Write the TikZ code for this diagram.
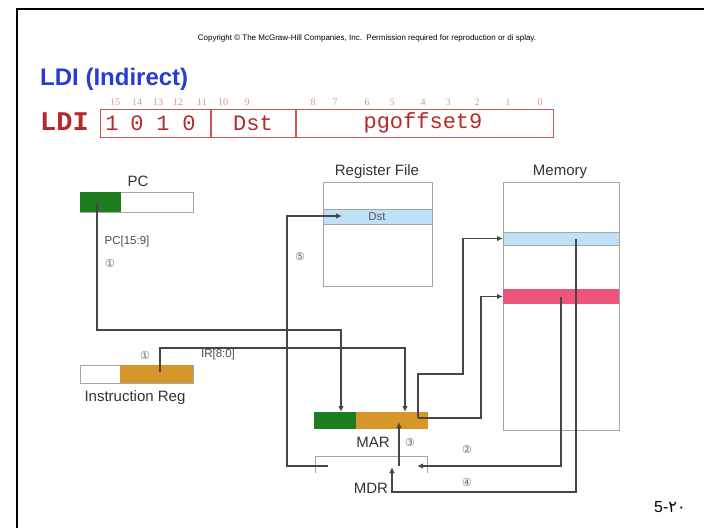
\documentclass[tikz,border=0pt]{standalone}
\usepackage{fontspec}
\setmainfont{Liberation Sans}
\newfontfamily\monofont{Liberation Mono}
\newfontfamily\bitfont{Liberation Serif}
\newfontfamily\symfont{DejaVu Sans}
\newfontfamily\arabicfont[Script=Arabic]{DejaVu Sans}
\usetikzlibrary{arrows.meta}

\definecolor{titleblue}{RGB}{40,60,210}
\definecolor{instrred}{RGB}{185,40,40}
\definecolor{boxred}{RGB}{205,85,85}
\definecolor{bitred}{RGB}{215,150,150}
\definecolor{regGreen}{RGB}{30,125,30}
\definecolor{regOrange}{RGB}{214,150,42}
\definecolor{rowBlue}{RGB}{190,225,245}
\definecolor{rowPink}{RGB}{238,85,125}
\definecolor{wireGray}{RGB}{70,70,70}
\definecolor{edgeGray}{RGB}{165,165,165}

\tikzset{
  regbox/.style={draw=edgeGray, line width=0.9pt, inner sep=0pt, outer sep=0pt, anchor=north west},
  fillbox/.style={inner sep=0pt, outer sep=0pt, anchor=north west},
  wire/.style={draw=wireGray, line width=1.4pt},
  arr/.style={wire, -{Latex[length=6pt,width=5.5pt]}},
  lbl/.style={font=\fontsize{15}{17}\selectfont, text=black!80, inner sep=0pt},
  tiny/.style={font=\fontsize{11.5}{13}\selectfont, text=black!70, inner sep=0pt},
  stepnum/.style={font=\symfont\fontsize{11}{12}\selectfont, text=black!60, inner sep=0pt},
  field/.style={font=\monofont\fontsize{22}{22}\selectfont, text=instrred, inner sep=0pt},
  bitnum/.style={font=\bitfont\fontsize{10}{10}\selectfont, text=bitred, inner sep=0pt}
}

\begin{document}
\begin{tikzpicture}[x=1pt,y=-1pt]
\useasboundingbox (0,0) rectangle (704,528);
\fill[white] (0,0) rectangle (704,528);

% slide frame
\draw[line width=2pt] (17,528) -- (17,8.5) -- (704,8.5);

\node[font=\fontsize{8}{9}\selectfont, inner sep=0pt] (copy) at (367,38)
  {Copyright © The McGraw-Hill Companies, Inc.\ \ Permission required for reproduction or di splay.};

\node[anchor=base west, inner sep=0pt, text=titleblue, font=\bfseries\fontsize{24}{27}\selectfont] (title) at (40,85) {LDI (Indirect)};

% instruction format
\node[anchor=west, inner sep=0pt, text=instrred, font=\monofont\bfseries\fontsize{27}{27}\selectfont] (opname) at (40,122) {LDI};
\node[draw=boxred, line width=1.3pt, minimum width=453pt, minimum height=28pt, anchor=north west, inner sep=0pt] (ibox) at (100,109) {};
\draw[boxred, line width=1.3pt] (211,109) -- (211,137);
\draw[boxred, line width=1.3pt] (296,109) -- (296,137);
\node[field] (op1) at (112,123) {1};
\node[field] (op2) at (137,123) {0};
\node[field] (op3) at (163,123) {1};
\node[field] (op4) at (189,123) {0};
\node[field] (fdst) at (253,123) {Dst};
\node[field] (foff) at (423,123) {pgoffset9};
\foreach \b/\x in {15/115,14/137,13/158,12/178,11/202,10/223,9/247,8/313,7/335,6/367,5/392,4/423,3/448,2/477,1/508,0/540}
  \node[bitnum] (bit\b) at (\x,102) {\b};

% PC
\node[lbl] (pclbl) at (138,181) {PC};
\node[regbox, minimum width=113pt, minimum height=20pt] (pc) at (80,192) {};
\node[fillbox, fill=regGreen, minimum width=41pt, minimum height=20pt] (pchi) at (80,192) {};

% instruction register
\node[regbox, minimum width=113pt, minimum height=18pt] (ir) at (80,365) {};
\node[fillbox, fill=regOrange, minimum width=73pt, minimum height=18pt] (irlo) at (120,365) {};
\node[lbl] (irlbl) at (135,398) {Instruction Reg};

% register file
\node[lbl] (rflbl) at (377,172) {Register File};
\node[regbox, minimum width=109pt, minimum height=104pt] (rf) at (323,182) {};
\node[regbox, fill=rowBlue, minimum width=109pt, minimum height=15pt] (rfdst) at (323,209) {};
\node[tiny, text=black!65] (dsttxt) at (377,216.5) {Dst};

% memory
\node[lbl] (memlbl) at (560,172) {Memory};
\node[regbox, minimum width=116pt, minimum height=248pt] (mem) at (503,182) {};
\node[regbox, fill=rowBlue, minimum width=116pt, minimum height=13pt] (memA) at (503,232) {};
\node[fillbox, fill=rowPink, minimum width=116pt, minimum height=15pt] (memB) at (503,289) {};

% MAR
\node[fillbox, fill=regGreen, minimum width=42pt, minimum height=17pt] (marhi) at (314,412) {};
\node[fillbox, fill=regOrange, minimum width=72pt, minimum height=17pt] (marlo) at (356,412) {};
\node[lbl] (marlbl) at (373,442) {MAR};

% MDR (open at the bottom)
\node[fillbox, minimum width=112pt, minimum height=17pt] (mdr) at (315,456) {};
\draw[draw=edgeGray, line width=0.9pt] (mdr.south west) -- (mdr.north west) -- (mdr.north east) -- (mdr.south east);
\node[lbl] (mdrlbl) at (371,488) {MDR};

% connection points
\coordinate (pcTap) at (97,203);
\coordinate (irTap) at (160,372);
\coordinate (marInPC) at (341,412);
\coordinate (marInIR) at (405,412);
\coordinate (marTap) at (418,418);
\coordinate (marIn3) at (399,422);
\coordinate (mdrUp) at (399,466);
\coordinate (mdrOut) at (328,466);
\coordinate (dstIn) at (342,216);
\coordinate (memATap) at (576,239);
\coordinate (memBTap) at (561,297);
\coordinate (mdrInR) at (417,466);
\coordinate (mdrInB) at (392,467);

% data paths
\draw[arr] (pcTap) -- ++(0,127) -| (marInPC);
\draw[arr] (irTap) -- ++(0,-24) -| (marInIR);
\draw[arr] (marTap) -- ++(0,-44) -- ++(45,0) |- (memA.west);
\draw[arr] (marTap) -- ++(63,0) |- (memB.west);
\draw[arr] (memBTap) |- (mdrInR);
\draw[arr] (memATap) -- ++(0,253) -| (mdrInB);
\draw[arr] (mdrUp) -- (marIn3);
\draw[arr] (mdrOut) -- ++(-41,0) |- (dstIn);

% labels on the paths
\node[tiny] (pcbits) at (127,242) {PC[15:9]};
\node[stepnum] (s1a) at (110,263) {①};
\node[tiny] (irbits) at (218,355) {IR[8:0]};
\node[stepnum] (s1b) at (145,355) {①};
\node[stepnum] (s5) at (300,256) {⑤};
\node[stepnum] (s3) at (410,442) {③};
\node[stepnum] (s2) at (467,449) {②};
\node[stepnum] (s4) at (467,482) {④};

% slide number
\node[font=\fontsize{16}{18}\selectfont, inner sep=0pt, anchor=west] (pageno) at (654,507) {5-{\arabicfont ۲۰}};
\end{tikzpicture}
\end{document}
